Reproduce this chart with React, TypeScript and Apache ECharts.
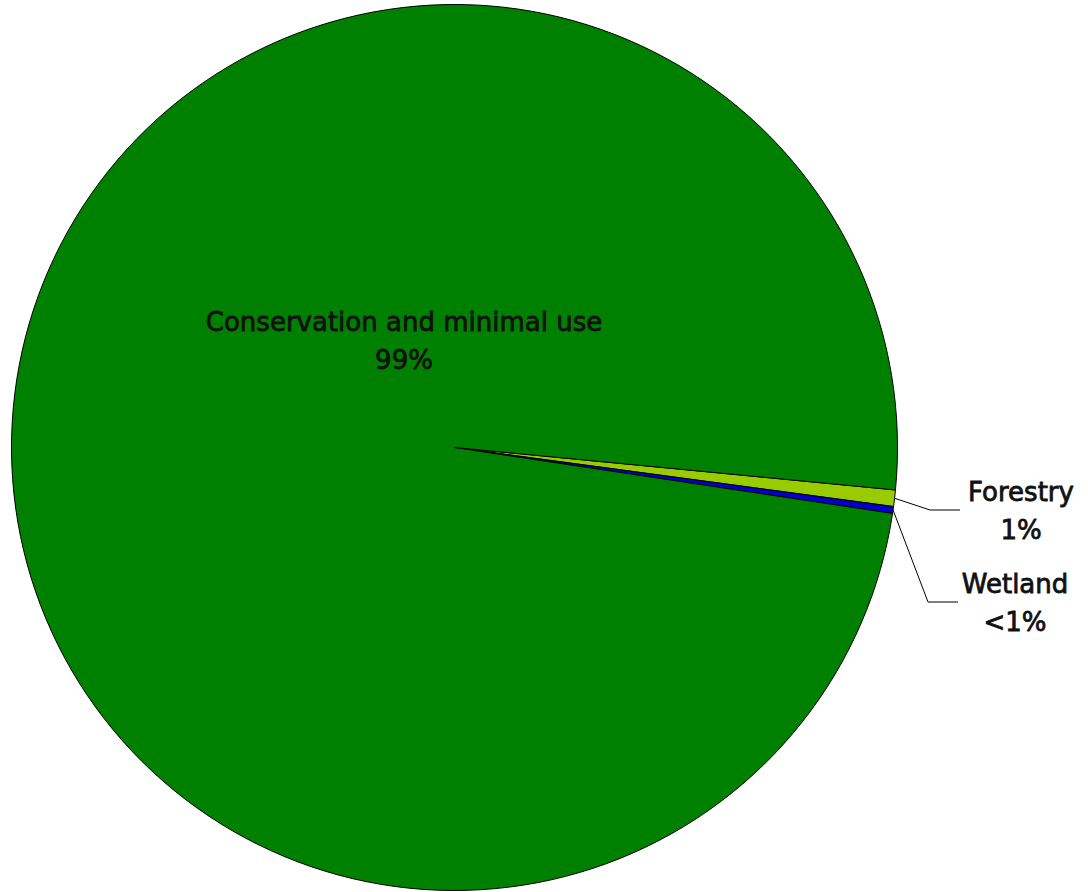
import React, { useEffect, useRef } from "react";
import * as echarts from "echarts";

const categories = ["Forestry", "Wetland", "Conservation and minimal use"];
const values = [0.6, 0.25, 99.15];
const colors = ["#99CC00", "#0000CC", "#008000"];

export default function App() {
  const ref = useRef<HTMLDivElement>(null);
  useEffect(() => {
    document.body.style.margin = "0";
    const chart = echarts.init(ref.current!, undefined, { renderer: "svg" });
    const data = categories.map((name, i) => ({
      name,
      value: values[i],
      itemStyle: { color: colors[i] },
      label: i === 2 ? { position: "inside" } : { position: "outside" },
      labelLine: { show: i !== 2 },
    }));
    chart.setOption({
      animation: false,
      backgroundColor: "#ffffff",
      series: [
        {
          type: "pie",
          center: [454.5, 447.5],
          radius: 443,
          startAngle: -5.5,
          clockwise: true,
          avoidLabelOverlap: false,
          itemStyle: { borderColor: "#000000", borderWidth: 1 },
          label: {
            show: true,
            fontFamily: "DejaVu Sans",
            fontSize: 26,
            lineHeight: 38,
            color: "#111111",
            textBorderColor: "#111111",
            textBorderWidth: 0.8,
            align: "center",
            formatter: (p: any) => {
              const pct = p.percent < 0.5 ? "<1%" : Math.round(p.percent) + "%";
              return p.name + "\n" + pct;
            },
          },
          labelLine: {
            show: true,
            lineStyle: { color: "#000000", width: 1 },
          },
          labelLayout: (params: any) => {
            if (params.dataIndex === 2) {
              return { x: 404, y: 341, align: "center", verticalAlign: "middle" };
            }
            const p0 = params.labelLinePoints ? params.labelLinePoints[0] : [895, 500];
            if (params.dataIndex === 0) {
              return {
                x: 1021,
                y: 511,
                align: "center",
                verticalAlign: "middle",
                labelLinePoints: [p0, [930, 510], [960, 510]],
              };
            }
            return {
              x: 1015,
              y: 603,
              align: "center",
              verticalAlign: "middle",
              labelLinePoints: [p0, [928, 602], [958, 602]],
            };
          },
          data,
        },
      ],
    });
    return () => chart.dispose();
  }, []);
  return <div ref={ref} style={{ width: 1088, height: 892 }} />;
}
